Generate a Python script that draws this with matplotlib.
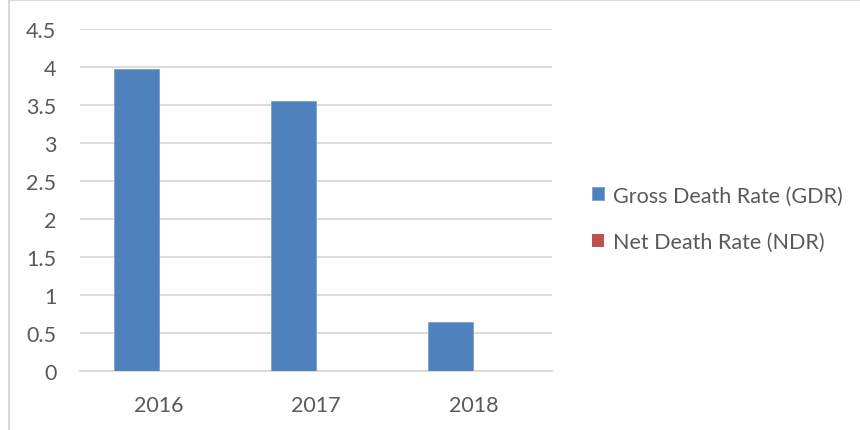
import matplotlib
matplotlib.use("Agg")
import matplotlib.pyplot as plt
import numpy as np
from matplotlib.lines import Line2D

years = ["2016", "2017", "2018"]
gdr = [3.97, 3.55, 0.64]
ndr = [0.0, 0.0, 0.0]
series_names = ["Gross Death Rate (GDR)", "Net Death Rate (NDR)"]
yticks = [0, 0.5, 1, 1.5, 2, 2.5, 3, 3.5, 4, 4.5]
ytick_labels = ["0", "0.5", "1", "1.5", "2", "2.5", "3", "3.5", "4", "4.5"]

plt.rcParams['font.family'] = ['Lato', 'DejaVu Sans']
txt = '#595959'
grid = '#D9D9D9'

fig = plt.figure(figsize=(8.6, 4.31), dpi=100)
ax = fig.add_axes([80/860, 1-372/431, 472/860, 342/431])

x = np.arange(len(years))
w = 1/3.5
ax.bar(x - w/2, gdr, w, color='#4F81BD', edgecolor='#7A9FD0', linewidth=0.6, label=series_names[0], zorder=3)
ax.bar(x + w/2, ndr, w, color='#C0504D', edgecolor='#C0504D', linewidth=0, label=series_names[1], zorder=3)

ax.set_xlim(-0.5, 2.5)
ax.set_ylim(0, 4.5)
ax.set_yticks(yticks)
ax.set_yticklabels(ytick_labels)
ax.set_xticks(x)
ax.set_xticklabels(years)
ax.yaxis.grid(True, color=grid, linewidth=1.3, zorder=0)
ax.set_axisbelow(True)
for s in ['top', 'right', 'left']:
    ax.spines[s].set_visible(False)
ax.spines['bottom'].set_color(grid)
ax.spines['bottom'].set_linewidth(1.3)
ax.tick_params(axis='both', length=0, colors=txt, labelsize=15.5)
ax.tick_params(axis='x', pad=17)
ax.tick_params(axis='y', pad=17)
for lab in ax.get_yticklabels():
    lab.set_horizontalalignment('right')

leg = fig.legend(loc='upper left', bbox_to_anchor=(573/860, 1-167/431), frameon=False,
                 fontsize=15.5, labelcolor=txt, handlelength=0.55, handleheight=0.55,
                 handletextpad=0.4, labelspacing=1.23)

fig.add_artist(Line2D([9/860, 9/860], [0, 1], transform=fig.transFigure, color=grid, linewidth=1.5))
fig.add_artist(Line2D([9/860, 1], [1-1/431, 1-1/431], transform=fig.transFigure, color=grid, linewidth=1.5))
fig.savefig("out.png", dpi=100)
